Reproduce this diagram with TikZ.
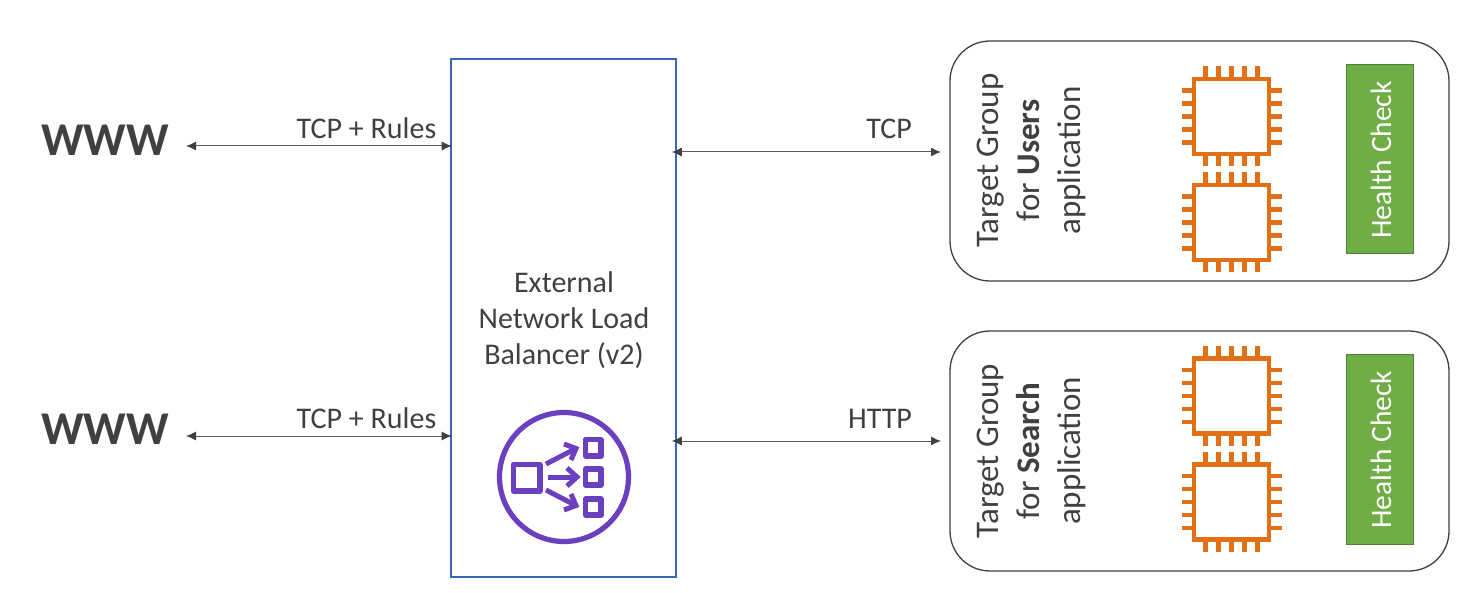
\documentclass[tikz,border=0pt]{standalone}
\usepackage{fontspec}
\setmainfont{Carlito}
\usetikzlibrary{arrows.meta,calc}
\definecolor{ink}{HTML}{404040}
\definecolor{lbblue}{HTML}{3A66B8}
\definecolor{chip}{HTML}{E06F16}
\definecolor{hc}{HTML}{70AD47}
\definecolor{hcedge}{HTML}{507E32}
\definecolor{purple1}{HTML}{6A3FC0}
\tikzset{
  x=1pt,y=-1pt,
  lbl/.style={text=ink,font=\fontsize{30}{36}\selectfont,inner sep=0pt,align=center},
  webtext/.style={text=ink,font=\fontsize{47}{47}\selectfont\bfseries,inner sep=0pt},
  group/.style={draw=ink,line width=1.3pt,rounded corners=40pt,inner sep=0pt,minimum width=499pt,minimum height=240pt,fill=white},
  tgtext/.style={text=ink,font=\fontsize{33}{41}\selectfont,inner sep=0pt,align=center,rotate=90},
  hcbox/.style={draw=hcedge,line width=1pt,fill=hc,text=white,inner sep=0pt,minimum width=67pt,minimum height=189pt},
  hctext/.style={text=white,font=\fontsize{29.5}{30}\selectfont,inner sep=0pt,rotate=90},
  link/.style={draw=ink!85,line width=1pt,{Latex[length=10pt,width=9pt,color=ink]}-{Latex[length=10pt,width=9pt,color=ink]}},
  chipbody/.style={draw=chip,line width=4.2pt,fill=white},
  chippin/.style={draw=chip,line width=4.4pt},
  iconline/.style={draw=purple1,line width=5.2pt},
  iconarrow/.style={draw=purple1,line width=5pt},
  chipicon/.pic={
    \draw[chippin] \foreach \d in {-26,-13,0,13,26} {
      (\d,-50) -- (\d,-38) (\d,38) -- (\d,50) (-50,\d) -- (-38,\d) (38,\d) -- (50,\d)};
    \draw[chipbody] (-37.5,-37.5) rectangle (37.5,37.5);
  }
}
\begin{document}
\begin{tikzpicture}
\useasboundingbox (0,0) rectangle (1478,593);
% load balancer
\node[draw=lbblue,line width=1.6pt,minimum width=225pt,minimum height=518pt,inner sep=0pt] (lb) at (563.5,318) {};
\node[lbl] (lbtext) at (564,320.5) {External\\Network Load\\Balancer (v2)};
% icon
\draw[iconline] (564,477) circle (64.5);
\draw[iconline,line join=round] (513.5,464.5) rectangle (540,491);
\draw[iconline,line join=round] (585.5,439.5) rectangle (601,456);
\draw[iconline,line join=round] (585.5,469) rectangle (601,485);
\draw[iconline,line join=round] (585.5,499) rectangle (601,515);
\draw[iconarrow] (546,464) -- (575,449);
\draw[iconarrow] (564,444) -- (576,448.5) -- (571,460);
\draw[iconarrow] (548,477) -- (577,477);
\draw[iconarrow] (567,468) -- (577,477) -- (567,486);
\draw[iconarrow] (546,490) -- (575,505);
\draw[iconarrow] (571,494) -- (576,505.5) -- (564,510);
% www
\node[webtext] (www1) at (105,140) {WWW};
\node[webtext] (www2) at (105,429.5) {WWW};
\coordinate (l1) at (186,146);
\coordinate (l2) at (186,436);
\draw[link] (l1) -- ([xshift=1.5pt]l1 -| lb.west);
\draw[link] (l2) -- ([xshift=1.5pt]l2 -| lb.west);
\node[lbl] (t1) at (366.5,128.5) {TCP + Rules};
\node[lbl] (t2) at (366.5,418.5) {TCP + Rules};
% groups
\node[group] (tg1) at (1199.5,161) {};
\node[group] (tg2) at (1199.5,451) {};
\node[tgtext] (tg1t) at (1031.5,160.5) {Target Group\\for \textbf{Users}\\application};
\node[tgtext] (tg2t) at (1031.5,451) {Target Group\\for \textbf{Search}\\application};
\pic at (1231.5,116.5) {chipicon};
\pic at (1231.5,222.5) {chipicon};
\pic at (1231.5,396) {chipicon};
\pic at (1231.5,502) {chipicon};
\node[hcbox] (hc1) at (1379.5,159.5) {};
\node[hcbox] (hc2) at (1379.5,449.5) {};
\node[hctext] (hc1t) at (1381,160) {Health Check};
\node[hctext] (hc2t) at (1381,449.5) {Health Check};
% right links
\coordinate (r1) at (941,152);
\coordinate (r2) at (941,441);
\draw[link] ([xshift=-5pt]lb.east |- r1) -- (r1);
\draw[link] ([xshift=-5pt]lb.east |- r2) -- (r2);
\node[lbl] (t3) at (889,129) {TCP};
\node[lbl] (t4) at (880,418.5) {HTTP};
\end{tikzpicture}
\end{document}
